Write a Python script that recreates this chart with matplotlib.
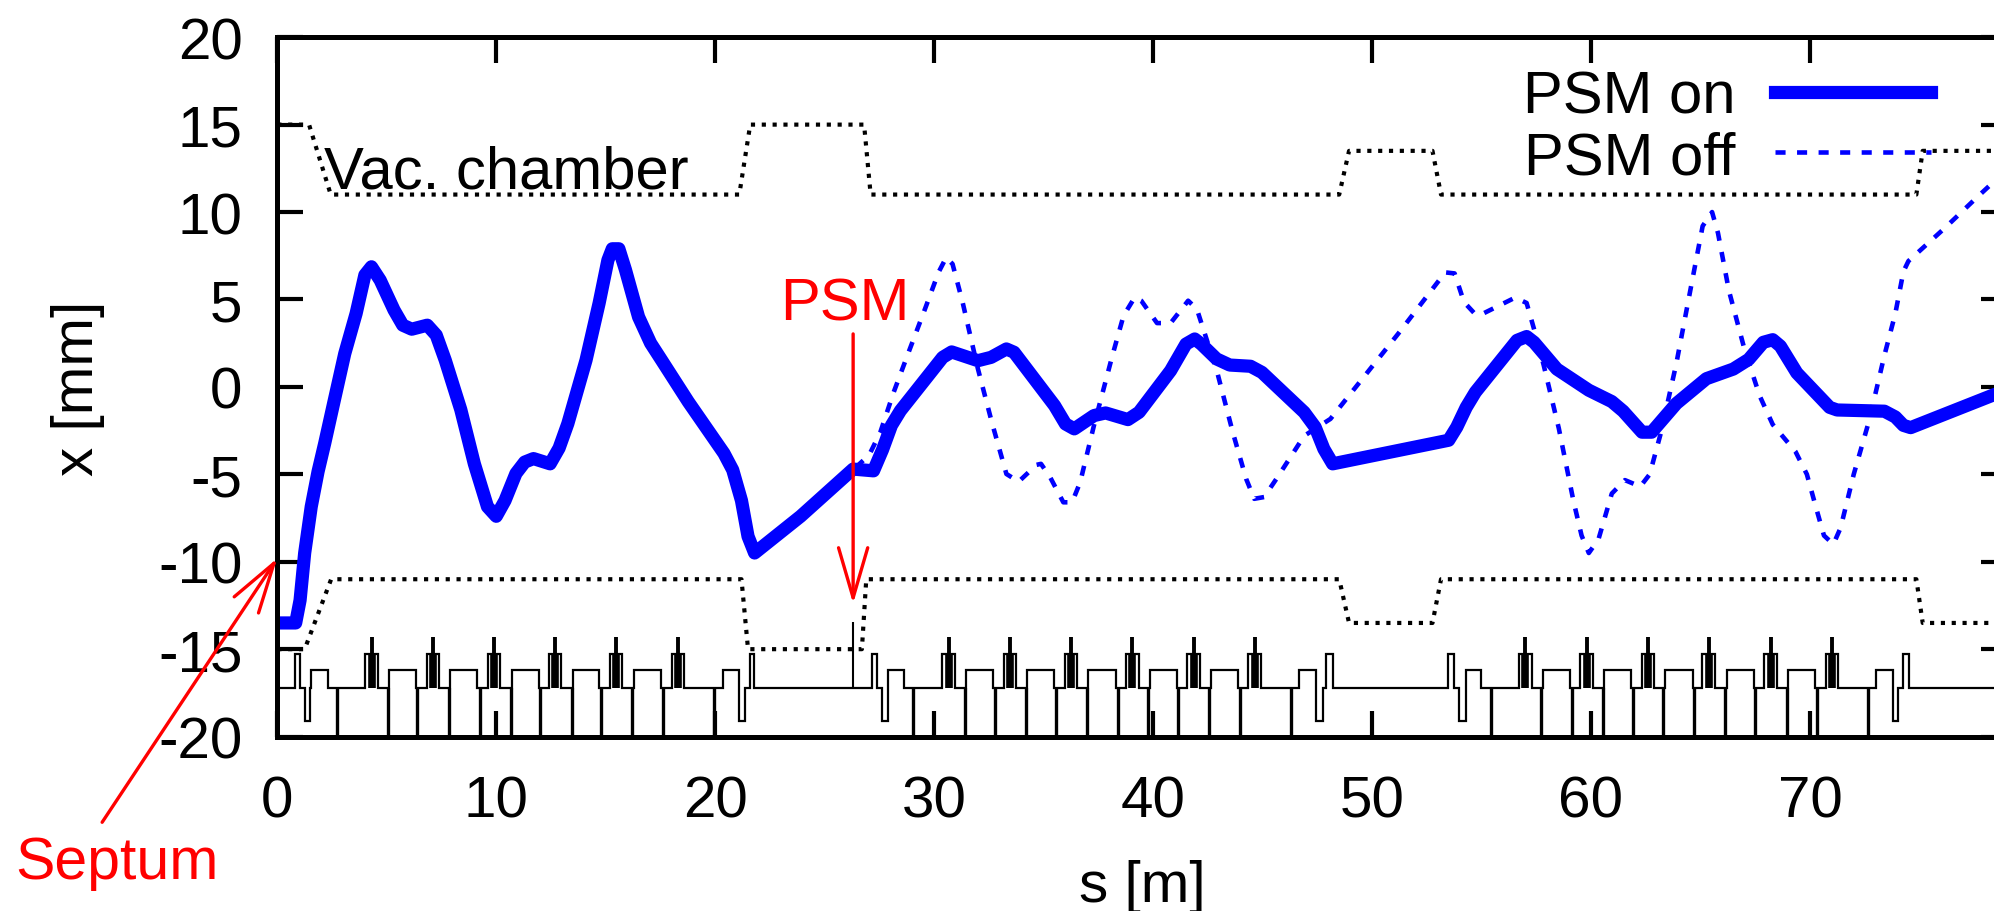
import matplotlib
matplotlib.use('Agg')
import matplotlib.pyplot as plt

plt.rcParams['font.family'] = ['Liberation Sans', 'DejaVu Sans']
plt.rcParams['axes.unicode_minus'] = False

# beam orbit, PSM on
s_on = [0, 0.84, 1.04, 1.25, 1.55, 1.86, 2.17, 2.57, 3.08, 3.6, 4.0, 4.3, 4.7, 5.33, 5.73, 6.14, 6.85, 7.26, 7.67,
        8.38, 9.0, 9.6, 10.0, 10.4, 10.9, 11.3, 11.7, 12.46, 12.87, 13.27, 14.1, 14.7, 15.1, 15.3, 15.6, 15.9, 16.5,
        17.05, 17.55, 18.77, 20.4, 20.8, 21.2, 21.5, 21.8, 23.9, 26.3, 27.23, 27.64, 28.05, 28.46, 30.39, 30.8, 32.0,
        32.6, 33.3, 33.65, 35.5, 36.0, 36.4, 37.3, 37.83, 38.85, 39.36, 40.8, 41.5, 41.9, 42.2, 42.9, 43.5, 44.45,
        44.97, 46.9, 47.4, 47.8, 48.2, 53.5, 53.87, 54.3, 54.72, 56.62, 57.06, 57.4, 58.44, 59.9, 60.95, 61.47, 62.33,
        62.77, 63.9, 65.27, 66.5, 67.2, 67.87, 68.3, 68.65, 69.4, 70.9, 71.24, 73.4, 73.9, 74.27, 74.6, 78.4, 79]
x_on = [-13.5, -13.5, -12.2, -9.5, -6.85, -4.85, -3.2, -0.95, 1.9, 4.2, 6.4, 6.87, 6.1, 4.4, 3.53, 3.3, 3.53, 2.96, 1.53,
        -1.3, -4.4, -6.85, -7.4, -6.5, -4.95, -4.3, -4.1, -4.4, -3.5, -2.1, 1.53, 4.8, 7.25, 7.9, 7.9, 6.7, 4.0,
        2.5, 1.53, -0.85, -3.8, -4.75, -6.5, -8.55, -9.5, -7.4, -4.7, -4.8, -3.6, -2.2, -1.36, 1.69, 2.0, 1.5,
        1.69, 2.17, 1.98, -1.07, -2.12, -2.4, -1.64, -1.49, -1.87, -1.45, 0.93, 2.45, 2.74, 2.45, 1.6, 1.25, 1.18,
        0.83, -1.45, -2.3, -3.55, -4.4, -3.05, -2.3, -1.17, -0.3, 2.66, 2.88, 2.55, 1.02, -0.19, -0.84, -1.39, -2.59,
        -2.59, -0.95, 0.47, 1.02, 1.57, 2.55, 2.7, 2.33, 0.8, -1.17, -1.32, -1.39, -1.72, -2.2, -2.33, -0.45, -0.2]

# beam orbit, PSM off
s_off = [26.42, 27.03, 27.54, 28.15, 28.86, 29.58, 30.2, 30.55, 30.84, 31.3, 32.0, 32.63, 33.3, 33.86, 34.67, 34.88,
         35.3, 35.9, 36.3, 36.67, 37.3, 38.14, 38.65, 39.16, 39.46, 40.18, 40.8, 41.6, 42.0, 42.93, 43.64, 44.25,
         44.62, 45.07, 45.68, 46.9, 48.1, 51.2, 53.34, 53.77, 54.2, 54.72, 55.0, 56.54, 57.06, 57.4, 57.84, 58.53,
         59.2, 59.57, 59.9, 60.34, 60.95, 61.55, 62.25, 62.68, 63.2, 63.9, 64.6, 65.1, 65.53, 65.8, 66.3, 67.0,
         67.7, 68.3, 69.34, 69.86, 70.3, 70.64, 71.07, 71.4, 72.0, 72.7, 73.4, 73.9, 74.27, 74.5, 76.17, 77.56,
         78.4, 79]
x_off = [-4.6, -3.9, -2.6, -0.31, 2.07, 4.45, 6.55, 7.4, 7.03, 4.84, 1.03, -2.0, -4.98, -5.42, -4.46, -4.4,
         -5.17, -6.6, -6.6, -5.45, -2.2, 1.79, 4.07, 5.12, 4.93, 3.65, 3.65, 4.93, 4.45, 0.83, -2.6, -5.26,
         -6.4, -6.3, -5.17, -2.8, -1.83, 3.05, 6.55, 6.49, 4.85, 4.15, 4.15, 5.11, 4.8, 3.3, 1.24, -2.37,
         -6.53, -8.5, -9.5, -8.72, -6.1, -5.33, -5.7, -5.0, -2.59, 1.35, 5.94, 9.2, 10.0, 8.8, 5.5, 2.2,
         -0.5, -2.15, -3.7, -5.0, -7.0, -8.5, -9.0, -8.06, -5.0, -1.94, 1.8, 4.2, 6.6, 7.2, 9.1, 10.76,
         11.74, 12.3]

# vacuum chamber
s_vac_up = [0, 1.45, 2.44, 21.1, 21.6, 26.8, 27.1, 48.5, 48.95, 52.76, 53.15, 74.86, 75.15, 79]
x_vac_up = [15, 15, 11, 11, 15, 15, 11, 11, 13.5, 13.5, 11, 11, 13.5, 13.5]
s_vac_lo = [0, 1.25, 2.46, 21.2, 21.5, 26.7, 26.9, 48.5, 48.95, 52.76, 53.15, 74.86, 75.15, 79]
x_vac_lo = [-15, -15, -11, -11, -15, -15, -11, -11, -13.5, -13.5, -11, -11, -13.5, -13.5]

# lattice elements
lat_base = -17.2
lat_floor = -20
quad_top = -16.2
kick_top = -15.3
drop_bottom = -19.08
sext_top = -14.3
psm_top = -13.45
quad_on = [(1.55, 2.3), (5.12, 6.34), (7.91, 9.14), (10.73, 11.95), (13.52, 14.7), (16.29, 17.51), (20.35, 21.08),
           (27.9, 28.63), (31.45, 32.7), (34.25, 35.49), (37.04, 38.29), (39.84, 41.08), (42.63, 43.88),
           (46.68, 47.44), (54.28, 54.98), (57.8, 59.05), (60.6, 61.84), (63.4, 64.64), (66.19, 67.44),
           (68.99, 70.23), (73.03, 73.79)]
kick_on = [(0.8, 1.04), (21.57, 21.79), (27.18, 27.4), (47.89, 48.2), (53.49, 53.76), (74.25, 74.52)]
drop_on = [(1.25, 1.5), (21.08, 21.37), (27.6, 27.9), (47.44, 47.74), (53.97, 54.28), (73.79, 74.03)]
sext_s = [4.31, 7.1, 9.89, 12.68, 15.48, 18.29, 30.66, 33.46, 36.25, 39.05, 41.85, 44.64, 57.0, 59.8, 62.6, 65.37,
          68.2, 71.0]
walls = [2.72, 5.05, 6.39, 7.83, 9.24, 10.67, 12.0, 13.44, 14.78, 16.2, 17.6, 19.95, 29.03, 31.39, 32.76, 34.19,
         35.55, 36.98, 38.38, 39.75, 41.15, 42.57, 43.97, 46.28, 55.43, 57.71, 59.14, 60.54, 61.91, 63.3, 64.7,
         66.13, 67.5, 68.93, 70.33, 72.63]
s_psm = 26.3

xticks = [0, 10, 20, 30, 40, 50, 60, 70]
yticks = [-20, -15, -10, -5, 0, 5, 10, 15, 20]

fig = plt.figure(figsize=(19.94, 9.12), dpi=100)
# right frame edge sits just past the crop of the original picture
ax = fig.add_axes([277.3 / 1994, (912 - 737.6) / 912, (2007 - 277.3) / 1994, (737.6 - 38.2) / 912])

# lattice as one stepped line
elems = [(a, b, quad_top) for a, b in quad_on] + [(a, b, kick_top) for a, b in kick_on]
elems += [(a, b, drop_bottom) for a, b in drop_on]
elems += [(c - 0.285, c + 0.285, kick_top) for c in sext_s]
elems.sort()
lx = [0]
ly = [lat_base]
for a, b, h in elems:
    lx += [a, a, b, b]
    ly += [lat_base, h, h, lat_base]
lx.append(79)
ly.append(lat_base)
ax.plot(lx, ly, color='k', lw=1.6, solid_joinstyle='miter')
ax.vlines(walls, lat_floor, lat_base, color='k', lw=2.4)
ax.vlines(sext_s, lat_base, kick_top, color='k', lw=5.5)
ax.vlines(sext_s, kick_top, sext_top, color='k', lw=2.8)
ax.vlines([s_psm], lat_base, psm_top, color='k', lw=1.5)

dots = (0, (1.0, 1.6))
ax.plot(s_vac_up, x_vac_up, color='k', lw=3, linestyle=dots)
ax.plot(s_vac_lo, x_vac_lo, color='k', lw=3, linestyle=dots)

l_off, = ax.plot(s_off, x_off, color='#0000ff', lw=3.3, linestyle=(0, (2.2, 2.5)), label='PSM off')
l_on, = ax.plot(s_on, x_on, color='#0000ff', lw=9.5, solid_joinstyle='round', label='PSM on')

ax.set_xlim(0, 79)
ax.set_ylim(-20, 20)
ax.set_xticks(xticks)
ax.set_yticks(yticks)
ax.tick_params(axis='both', which='major', direction='in', top=True, right=True, length=19, width=3, labelsize=42)
ax.tick_params(axis='x', pad=27)
ax.tick_params(axis='y', pad=25)
for sp in ax.spines.values():
    sp.set_linewidth(3.6)

ax.set_xlabel('s [m]', fontsize=42, labelpad=22)
ax.set_ylabel('x [mm]', fontsize=42, labelpad=38)

leg = ax.legend(handles=[l_on, l_off], loc='upper left', bbox_to_anchor=(1523 / 1994, 1 - 71 / 912),
                bbox_transform=fig.transFigure, frameon=False, fontsize=43, markerfirst=False, borderpad=0,
                borderaxespad=0, labelspacing=0.09, handlelength=2.62, handletextpad=0.66)

ax.text(2.15, 11.4, 'Vac. chamber', fontsize=43, color='k', ha='left', va='baseline')
ax.text(25.9, 3.88, 'PSM', fontsize=43, color='#ff0000', ha='center', va='baseline')
ax.text(-11.95, -28.1, 'Septum', fontsize=42.5, color='#ff0000', ha='left', va='baseline', clip_on=False)

arrow = dict(arrowstyle='->,head_length=36,head_width=10.5', color='#ff0000', lw=2.4, shrinkA=0, shrinkB=0,
             mutation_scale=1)
ax.annotate('', xy=(s_psm, -12.4), xytext=(s_psm, 3.03), arrowprops=arrow, annotation_clip=False)
ax.annotate('', xy=(0, -9.8), xytext=(-8, -24.9), arrowprops=arrow, annotation_clip=False)

fig.savefig('out.png', dpi=100)
